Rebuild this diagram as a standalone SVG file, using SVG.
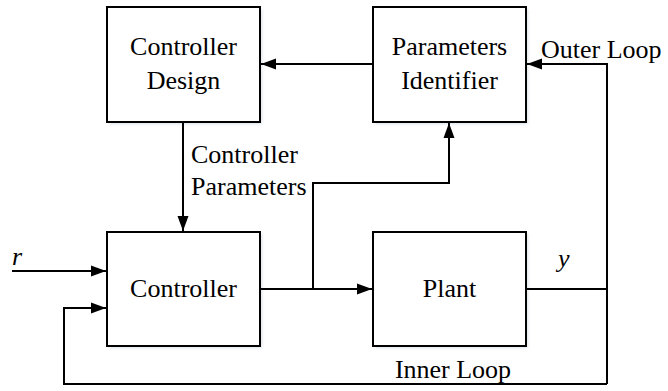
<svg xmlns="http://www.w3.org/2000/svg" width="668" height="391" viewBox="0 0 668 391">
<defs>
<marker id="ah" markerUnits="userSpaceOnUse" markerWidth="16" markerHeight="12" refX="15" refY="6" orient="auto">
<path d="M0,0.5 L15,6 L0,11.5 Z" fill="#000"/>
</marker>
<filter id="sh" x="-10%" y="-10%" width="120%" height="120%">
<feGaussianBlur stdDeviation="1.5"/>
</filter>
</defs>
<style>
.box{fill:#fff;stroke:#000;stroke-width:2}
.shadow{fill:#9ab;opacity:0.35}
text{font-family:'Liberation Serif','Times New Roman',serif;font-size:26px;fill:#000}
.i{font-style:italic}
.c{text-anchor:middle}
.ln{fill:none;stroke:#000;stroke-width:2}
</style>
<rect width="668" height="391" fill="#fff"/>
<g id="controller-design">
<rect class="shadow" x="109" y="9" width="153" height="115" filter="url(#sh)"/>
<rect class="box" x="107" y="7" width="153" height="115"/>
<text class="c" x="183.5" y="55">Controller</text>
<text class="c" x="183.5" y="89">Design</text>
</g>
<g id="parameters-identifier">
<rect class="shadow" x="375" y="9" width="153" height="115" filter="url(#sh)"/>
<rect class="box" x="373" y="7" width="153" height="115"/>
<text class="c" x="449.5" y="55">Parameters</text>
<text class="c" x="449.5" y="89">Identifier</text>
</g>
<g id="controller">
<rect class="shadow" x="109" y="234" width="153" height="114" filter="url(#sh)"/>
<rect class="box" x="107" y="232" width="153" height="114"/>
<text class="c" x="183.5" y="297">Controller</text>
</g>
<g id="plant">
<rect class="shadow" x="375" y="234" width="153" height="114" filter="url(#sh)"/>
<rect class="box" x="373" y="232" width="153" height="114"/>
<text class="c" x="449.5" y="297">Plant</text>
</g>
<g id="connectors">
<line class="ln" x1="373" y1="64" x2="261" y2="64" marker-end="url(#ah)"/>
<line class="ln" x1="183" y1="122" x2="183" y2="231" marker-end="url(#ah)"/>
<line class="ln" x1="12" y1="271" x2="106" y2="271" marker-end="url(#ah)"/>
<line class="ln" x1="260" y1="289" x2="372" y2="289" marker-end="url(#ah)"/>
<polyline class="ln" points="313,289 313,183 449,183 449,123" marker-end="url(#ah)"/>
<line class="ln" x1="526" y1="289" x2="607" y2="289"/>
<polyline class="ln" points="607,384 607,64 527,64" marker-end="url(#ah)"/>
<polyline class="ln" points="607,384 64,384 64,308 106,308" marker-end="url(#ah)"/>
</g>
<g id="labels">
<text x="191" y="163">Controller</text>
<text x="191" y="195">Parameters</text>
<text x="541" y="58">Outer Loop</text>
<text class="c" x="453" y="378">Inner Loop</text>
<text class="i" x="558" y="267">y</text>
<text class="i" x="12" y="265">r</text>
</g>
</svg>
